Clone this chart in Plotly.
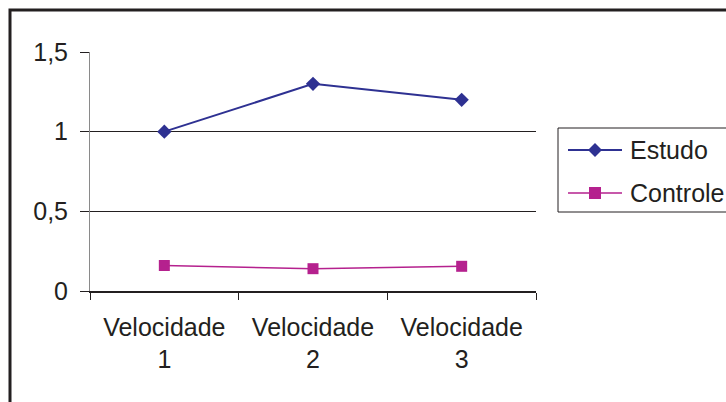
import plotly.graph_objects as go

# Chart data
categories = ["Velocidade<br>1", "Velocidade<br>2", "Velocidade<br>3"]
estudo = [1.0, 1.3, 1.2]
controle = [0.16, 0.14, 0.155]
y_ticks = [0, 0.5, 1, 1.5]
y_tick_labels = ["0", "0,5", "1", "1,5"]
series_names = ["Estudo", "Controle"]

FONT = "Liberation Sans, Arial, sans-serif"
TXT = "#231F20"
BLUE = "#2E3192"
MAGENTA = "#B5218E"

fig = go.Figure()
fig.add_trace(go.Scatter(
    x=categories, y=estudo, name=series_names[0], mode="lines+markers",
    line=dict(color=BLUE, width=2),
    marker=dict(symbol="diamond", size=11, color=BLUE, line=dict(width=0)),
))
fig.add_trace(go.Scatter(
    x=categories, y=controle, name=series_names[1], mode="lines+markers",
    line=dict(color=MAGENTA, width=1.5),
    marker=dict(symbol="square", size=11, color=MAGENTA, line=dict(width=0)),
))

# Plot area spans px 90..536 horizontally and 52..291 vertically
L, R, T, B = 90, 536, 52, 291
W, H = R - L, B - T


def px_x(p):
    return (p - L) / W


def px_y(p):
    return (B - p) / H


shapes = [
    # outer chart frame
    dict(type="rect", xref="paper", yref="paper",
         x0=px_x(10), x1=px_x(760), y0=px_y(440), y1=px_y(10),
         line=dict(color=TXT, width=3), fillcolor="rgba(0,0,0,0)", layer="below"),
    # legend box
    dict(type="rect", xref="paper", yref="paper",
         x0=px_x(558), x1=px_x(760), y0=px_y(212), y1=px_y(128),
         line=dict(color=TXT, width=1), fillcolor="white", layer="below"),
]
annotations = []

# hand-drawn legend entries: line sample, marker, label
legend_rows = [(150, BLUE, "diamond", 2), (193, MAGENTA, "square", 1.5)]
for name, (ry, col, sym, lw) in zip(series_names, legend_rows):
    shapes.append(dict(type="line", xref="paper", yref="paper",
                       x0=px_x(568), x1=px_x(622), y0=px_y(ry), y1=px_y(ry),
                       line=dict(color=col, width=lw)))
    cx = 595
    if sym == "diamond":
        path = (f"M {px_x(cx - 7)} {px_y(ry)} L {px_x(cx)} {px_y(ry - 7)} "
                f"L {px_x(cx + 7)} {px_y(ry)} L {px_x(cx)} {px_y(ry + 7)} Z")
        shapes.append(dict(type="path", xref="paper", yref="paper", path=path,
                           fillcolor=col, line=dict(width=0)))
    else:
        shapes.append(dict(type="rect", xref="paper", yref="paper",
                           x0=px_x(cx - 6), x1=px_x(cx + 6),
                           y0=px_y(ry + 6), y1=px_y(ry - 6),
                           fillcolor=col, line=dict(width=0)))
    annotations.append(dict(xref="paper", yref="paper", x=px_x(628), y=px_y(ry),
                            xanchor="left", yanchor="middle", text=name,
                            showarrow=False,
                            font=dict(family=FONT, size=25, color=TXT)))

fig.update_layout(
    width=726, height=402,
    margin=dict(l=L, r=726 - R, t=T, b=402 - B),
    paper_bgcolor="white", plot_bgcolor="white",
    font=dict(family=FONT, size=25, color=TXT),
    showlegend=False,
    xaxis=dict(
        type="category", range=[-0.5, 2.5],
        tickson="boundaries", ticks="outside", ticklen=7, tickcolor=TXT,
        showline=True, linecolor=TXT, linewidth=1.5,
        showgrid=False, zeroline=False, ticklabelstandoff=13,
        tickfont=dict(family=FONT, size=25, color=TXT),
    ),
    yaxis=dict(
        range=[0, 1.5], tickvals=y_ticks, ticktext=y_tick_labels,
        ticks="outside", ticklen=9, tickcolor=TXT,
        showline=True, linecolor="#8A8A8A", linewidth=1,
        showgrid=True, gridcolor=TXT, gridwidth=1,
        zeroline=False, ticklabelstandoff=7,
        tickfont=dict(family=FONT, size=25, color=TXT),
    ),
    shapes=shapes,
    annotations=annotations,
)

fig.write_html("out.html")
